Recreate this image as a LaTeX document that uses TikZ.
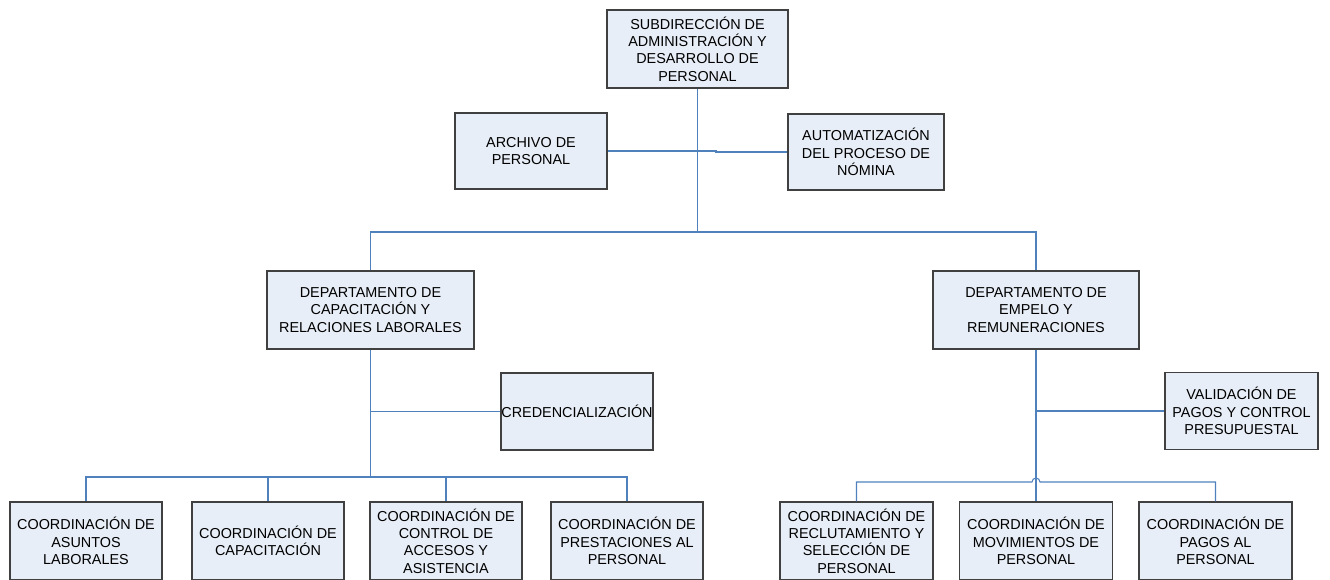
\documentclass[tikz,border=0pt]{standalone}
\usepackage{fontspec}
\setmainfont{Liberation Sans}
\usepackage{tikz}
\usetikzlibrary{calc}
\definecolor{boxfill}{RGB}{232,238,247}
\definecolor{boxline}{RGB}{64,64,64}
\definecolor{linkblue}{RGB}{79,129,189}
\tikzset{
  orgbox/.style={draw=boxline, line width=0.7pt, fill=boxfill, align=center, inner sep=0pt,
    minimum width=3.04cm, minimum height=1.54cm, font=\fontsize{8.2}{9.9}\selectfont},
  link/.style={draw=linkblue, line width=0.6pt}
}
\begin{document}
\begin{tikzpicture}[x=0.02cm,y=-0.02cm]
\useasboundingbox (0,0) rectangle (1330,579);
\node[orgbox, minimum width=3.62cm, minimum height=1.56cm] (subdir) at (697.5,49) {SUBDIRECCIÓN DE\\ADMINISTRACIÓN Y\\DESARROLLO DE\\PERSONAL};
\node[orgbox, minimum height=1.52cm] (archivo) at (531,151) {ARCHIVO DE\\PERSONAL};
\node[orgbox, minimum width=3.12cm, minimum height=1.52cm] (automat) at (866,152) {AUTOMATIZACIÓN\\DEL PROCESO DE\\NÓMINA};
\node[orgbox, minimum width=4.14cm, minimum height=1.56cm] (depcap) at (370.5,310) {DEPARTAMENTO DE\\CAPACITACIÓN Y\\RELACIONES LABORALES};
\node[orgbox, minimum width=4.12cm, minimum height=1.56cm] (depemp) at (1036,310) {DEPARTAMENTO DE\\EMPELO Y\\REMUNERACIONES};
\node[orgbox] (credenc) at (577,411.5) {CREDENCIALIZACIÓN};
\node[orgbox, minimum width=3.06cm] (validac) at (1241.5,411) {VALIDACIÓN DE\\PAGOS Y CONTROL\\PRESUPUESTAL};
\node[orgbox, minimum height=1.56cm] (coasun) at (86,541) {COORDINACIÓN DE\\ASUNTOS\\LABORALES};
\node[orgbox, minimum height=1.56cm] (cocap) at (268,541) {COORDINACIÓN DE\\CAPACITACIÓN};
\node[orgbox, minimum height=1.56cm] (coacc) at (446,541) {COORDINACIÓN DE\\CONTROL DE\\ACCESOS Y\\ASISTENCIA};
\node[orgbox, minimum height=1.56cm] (copres) at (627,541) {COORDINACIÓN DE\\PRESTACIONES AL\\PERSONAL};
\node[orgbox, minimum width=3.06cm, minimum height=1.56cm] (coreclu) at (856.5,541) {COORDINACIÓN DE\\RECLUTAMIENTO Y\\SELECCIÓN DE\\PERSONAL};
\node[orgbox, minimum width=3.06cm, minimum height=1.56cm] (comov) at (1036,541) {COORDINACIÓN DE\\MOVIMIENTOS DE\\PERSONAL};
\node[orgbox, minimum width=3.06cm, minimum height=1.56cm] (copag) at (1215.5,541) {COORDINACIÓN DE\\PAGOS AL\\PERSONAL};

\coordinate (bartop) at (697.5,232);
\coordinate (jog) at (716,152);
\coordinate (barleft) at (370.5,477);
\coordinate (hop) at (1036,482);

\draw[link] (subdir.south) -- (bartop);
\draw[link] (archivo.east) -| (jog) -- (automat.west);
\draw[link] (bartop) -| (depcap.north);
\draw[link] (bartop) -| (depemp.north);

\draw[link] (depcap.south) -- (barleft);
\draw[link] (credenc.west) -- (credenc.west -| depcap.south);
\foreach \n in {coasun,cocap,coacc,copres}
  \draw[link] (barleft) -| (\n.north);

\draw[link] (depemp.south) -- (comov.north);
\draw[link] (validac.west) -- (validac.west -| depemp.south);
\draw[link] (coreclu.north) |- ($(hop)+(-4,0)$) arc[start angle=180, end angle=0, radius=0.08cm] -| (copag.north);
\end{tikzpicture}
\end{document}
